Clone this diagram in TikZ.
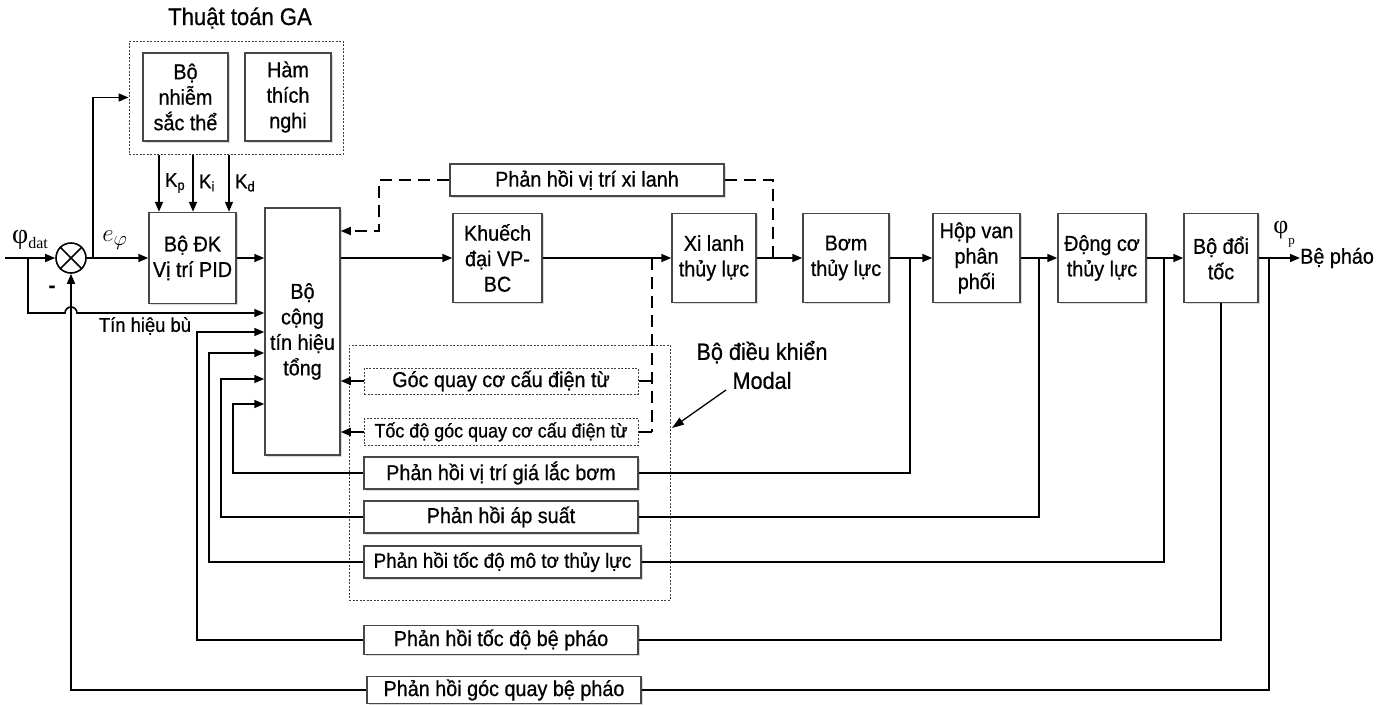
\documentclass[tikz,border=0pt]{standalone}
\usepackage{fontspec}
\setmainfont{Liberation Sans}[FakeStretch=0.92, FakeBold=0.7]
\newfontfamily\seriffam{Liberation Serif}
\usetikzlibrary{arrows.meta,shadows}
\begin{document}
\begin{tikzpicture}[x=1pt,y=-1pt,
  font=\fontsize{21.5}{25.5}\selectfont,
  box/.style={draw=black!72, line width=1.5pt, fill=white, align=center, inner sep=0pt,
    drop shadow={shadow xshift=1.5pt,shadow yshift=-1.5pt,opacity=0.3}},
  dbox/.style={draw=black!75, line width=1pt, dash pattern=on 2pt off 1.5pt, align=center, inner sep=0pt},
  con/.style={line width=1.6pt},
  arr/.style={con, -{Triangle[length=10pt,width=8pt]}},
  dline/.style={line width=1.6pt, dash pattern=on 12pt off 7pt},
  lbl/.style={inner sep=0pt, align=center}]
\useasboundingbox (0,0) rectangle (1391,704);

% ---- GA block
\node[lbl, font=\fontsize{24}{24}\selectfont] (title) at (240,18) {Thuật toán GA};
\node[dbox, minimum width=214pt, minimum height=113pt] (ga) at (236,97.5) {};
\node[box, minimum width=85pt, minimum height=88pt] (chrom) at (185.5,97) {Bộ\\nhiễm\\sắc thể};
\node[box, minimum width=86pt, minimum height=88pt] (fitf) at (288,97) {Hàm\\thích\\nghi};

% ---- main chain
\node[circle, draw, line width=1.6pt, minimum size=30pt, inner sep=0pt] (sum) at (71,258) {};
\draw[con] (sum.north west) -- (sum.south east) (sum.north east) -- (sum.south west);
\node[box, minimum width=87pt, minimum height=91pt] (pid) at (192.5,258) {Bộ ĐK\\Vị trí PID};
\node[box, minimum width=75pt, minimum height=247pt] (adder) at (302.5,331.5) {Bộ\\cộng\\tín hiệu\\tổng};
\node[box, minimum width=89pt, minimum height=89pt] (amp) at (497.5,258) {Khuếch\\đại VP-\\BC};
\node[box, minimum width=84pt, minimum height=89pt] (cyl) at (714,258) {Xi lanh\\thủy lực};
\node[box, minimum width=86pt, minimum height=89pt] (pump) at (846,258) {Bơm\\thủy lực};
\node[box, minimum width=87pt, minimum height=89pt] (valve) at (976.5,258) {Hộp van\\phân\\phối};
\node[box, minimum width=88pt, minimum height=89pt] (motor) at (1102,258) {Động cơ\\thủy lực};
\node[box, minimum width=74pt, minimum height=89pt] (gear) at (1221,258) {Bộ đổi\\tốc};
\node[lbl, anchor=west] (out) at (1300,258) {Bệ pháo};

% ---- feedback boxes
\node[box, minimum width=274pt, minimum height=32pt] (fbcyl) at (587,180) {Phản hồi vị trí xi lanh};
\node[dbox, minimum width=321pt, minimum height=255pt] (modal) at (509.5,472.5) {};
\node[dbox, fill=white, minimum width=274pt, minimum height=26pt] (fb1) at (501,381) {Góc quay cơ cấu điện từ};
\node[dbox, fill=white, minimum width=274pt, minimum height=27pt, font=\fontsize{19.5}{20}\selectfont] (fb2) at (501,432) {Tốc độ góc quay cơ cấu điện từ};
\node[box, minimum width=274pt, minimum height=32pt] (fb3) at (501,473) {Phản hồi vị trí giá lắc bơm};
\node[box, minimum width=274pt, minimum height=32pt] (fb4) at (501,517) {Phản hồi áp suất};
\node[box, minimum width=277pt, minimum height=32pt, font=\fontsize{20.5}{21}\selectfont] (fb5) at (502.5,562) {Phản hồi tốc độ mô tơ thủy lực};
\node[box, minimum width=274pt, minimum height=29pt] (fb6) at (501,640) {Phản hồi tốc độ bệ pháo};
\node[box, minimum width=274pt, minimum height=27pt] (fb7) at (504,690) {Phản hồi góc quay bệ pháo};

% ---- labels
\node[lbl] (phidat) at (30,240) {\seriffam\fontsize{28}{28}\selectfont φ\raisebox{-5pt}{\fontsize{16}{16}\selectfont dat}};
\node[lbl] (minus) at (52,289) {\bfseries -};
\node[lbl] (eph) at (115,240) {\fontsize{29}{29}\selectfont $e_{\varphi}$};
\node[lbl, font=\fontsize{20}{20}\selectfont] (bu) at (145,326) {Tín hiệu bù};
\node[lbl, anchor=west, font=\fontsize{20}{20}\selectfont] (kp) at (165,183) {K\textsubscript{p}};
\node[lbl, anchor=west, font=\fontsize{20}{20}\selectfont] (ki) at (199,183) {K\textsubscript{i}};
\node[lbl, anchor=west, font=\fontsize{20}{20}\selectfont] (kd) at (235,183) {K\textsubscript{d}};
\node[lbl] (phip) at (1284,234) {\seriffam\fontsize{26}{26}\selectfont φ\raisebox{-11pt}{\fontsize{13}{13}\selectfont p}};
\node[lbl, font=\fontsize{23.5}{29}\selectfont] (mlabel) at (762,365) {Bộ điều khiển\\Modal};

% ---- forward connectors
\draw[arr] (5,258) -- (sum.west);
\draw[arr] (28,258) -- (28,313) -- (65,313) arc[start angle=180,end angle=360,radius=6] -- (adder.west |- 0,313);
\draw[arr] (sum.east) -- (pid.west);
\draw[arr] (93,258) |- (ga.west);
\draw[arr] (ga.south -| 159,0) -- (pid.north -| 159,0);
\draw[arr] (ga.south -| 193,0) -- (pid.north -| 193,0);
\draw[arr] (ga.south -| 229,0) -- (pid.north -| 229,0);
\draw[arr] (pid.east) -- (pid.east -| adder.west);
\draw[arr] (adder.east |- amp.west) -- (amp.west);
\draw[arr] (amp.east) -- (cyl.west);
\draw[arr] (cyl.east) -- (pump.west);
\draw[arr] (pump.east) -- (valve.west);
\draw[arr] (valve.east) -- (motor.west);
\draw[arr] (motor.east) -- (gear.west);
\draw[arr] (gear.east) -- (out.west);

% ---- dashed cylinder feedback
\draw[dline] (fbcyl.east) -- (773,180) -- (773,258);
\draw[dline, -{Triangle[length=10pt,width=8pt]}] (fbcyl.west) -- (379,180) -- (379,231) -- (adder.east |- 0,231);
\draw[dline] (652,258) -- (652,432);
\draw[con] (fb1.east) -- (652,381);
\draw[con] (fb2.east) -- (652,432);
\draw[arr] (fb1.west) -- (fb1.west -| adder.east);
\draw[arr] (fb2.west) -- (fb2.west -| adder.east);

% ---- solid feedback loops
\draw[con] (910,258) |- (fb3.east);
\draw[arr] (fb3.west) -| (233,404) -- (adder.west |- 0,404);
\draw[con] (1039,258) |- (fb4.east);
\draw[arr] (fb4.west) -| (221,379) -- (adder.west |- 0,379);
\draw[con] (1164,258) |- (fb5.east);
\draw[arr] (fb5.west) -| (209,353) -- (adder.west |- 0,353);
\draw[con] (gear.south) |- (fb6.east);
\draw[arr] (fb6.west) -| (197,332) -- (adder.west |- 0,332);
\draw[con] (1269,258) |- (fb7.east);
\draw[arr] (fb7.west) -| (sum.south);

% ---- modal annotation arrow
\draw[line width=1.3pt, -{Triangle[length=12pt,width=8pt]}] (726,390) -- (672,428);
\end{tikzpicture}
\end{document}
